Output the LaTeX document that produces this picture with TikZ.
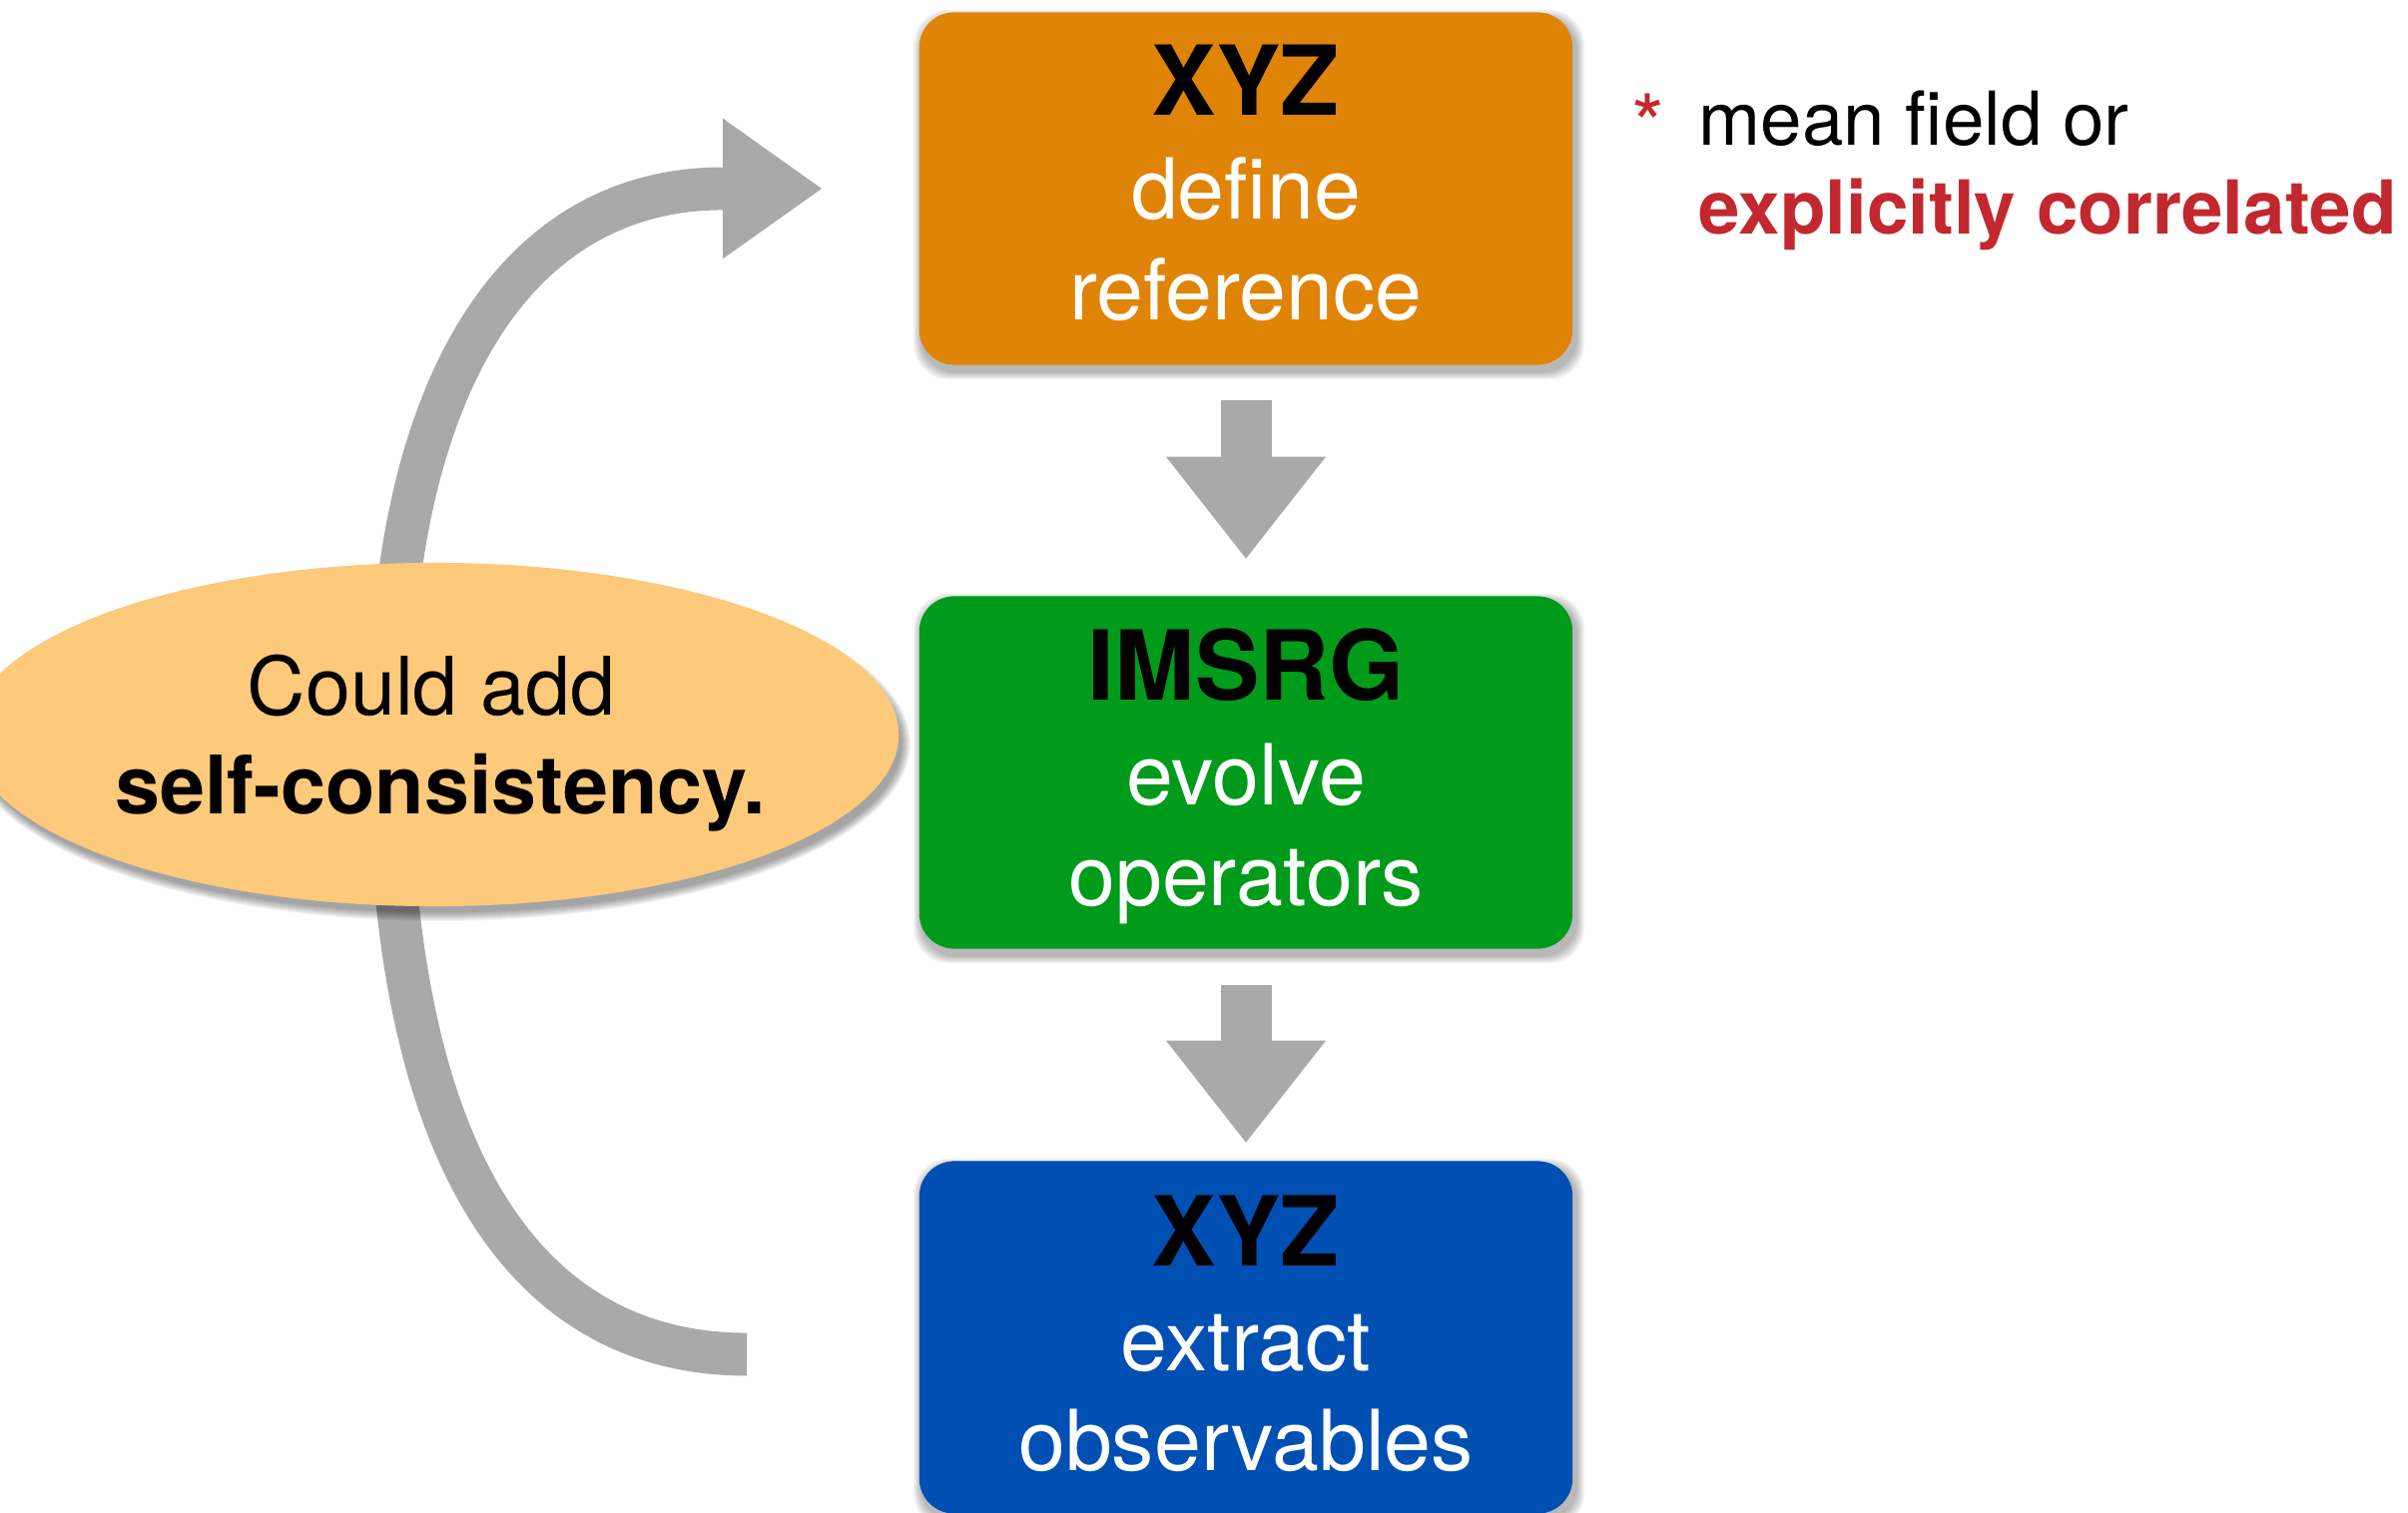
\documentclass[tikz,border=0pt]{standalone}
\usepackage{fontspec}
\setmainfont{TeX Gyre Heros}
\usetikzlibrary{arrows.meta,shapes.geometric}
\definecolor{cOrange}{RGB}{224,132,7}
\definecolor{cGreen}{RGB}{0,155,27}
\definecolor{cBlue}{RGB}{0,80,180}
\definecolor{cEll}{RGB}{253,201,123}
\definecolor{cGray}{RGB}{169,169,169}
\definecolor{cRed}{RGB}{194,40,46}
\newcommand{\boxshadow}[1]{%
  \foreach \k in {1,...,8}{%
    \fill[black, opacity=0.04, rounded corners=0.35cm]
      ([xshift={(3-\k)*0.1mm}, yshift={(-6+\k)*0.1mm}]#1.north west) rectangle
      ([xshift={(3+\k)*0.1mm}, yshift={(-6-\k)*0.1mm}]#1.south east);
  }}
\begin{document}
\begin{tikzpicture}[x=0.01cm,y=-0.01cm,
  stepbox/.style={rectangle, rounded corners=0.35cm, minimum width=6.54cm, minimum height=3.53cm, inner sep=0pt},
  title/.style={anchor=base, inner sep=0pt, font=\fontsize{27.5}{30}\selectfont\bfseries, text=black},
  body/.style={anchor=base, inner sep=0pt, font=\fontsize{24}{28}\selectfont, text=white},
  blockarrow/.style={draw=cGray, line width=14.5pt, line cap=butt, -{Triangle[length=29pt,width=45.5pt,line width=0pt]}},
  curvearrow/.style={draw=cGray, line width=12.2pt, line cap=butt, -{Triangle[length=28.2pt,width=40.1pt,line width=0pt]}},
  elltext/.style={anchor=base, inner sep=0pt, font=\fontsize{23}{26}\selectfont, text=black},
  notetext/.style={anchor=base west, inner sep=0pt, font=\fontsize{21.2}{24}\selectfont}
]
\useasboundingbox (0,0) rectangle (2412,1516);

% feedback arrow (behind ellipse)
\coordinate (cb) at (748,1357);
\coordinate (cm) at (390,740);
\coordinate (ce) at (724,189);
\coordinate (ca) at (823,189);
\draw[curvearrow] (cb) .. controls (520,1357) and (390,1150) .. (cm)
   .. controls (390,380) and (520,189) .. (ce) -- (ca);

% ellipse with shadow
\coordinate (ellc) at (435,736);
\foreach \k in {1,...,10}{%
  \fill[black, opacity=0.045] ([xshift=0.5mm, yshift=-0.9mm]ellc) ellipse [x radius={462+\k}, y radius={168+\k}];
}
\node[ellipse, fill=cEll, minimum width=9.30cm, minimum height=3.44cm, inner sep=0pt] (sc) at (ellc) {};
\node[elltext] (sc1) at (432,717) {Could add};
\node[elltext, font=\fontsize{23}{26}\selectfont\bfseries] (sc2) at (441,815) {self-consistency.};

% boxes
\node[stepbox] (ref) at (1248,189) {};
\node[stepbox] (grn) at (1248,774) {};
\node[stepbox] (blu) at (1248,1340) {};
\boxshadow{ref}
\boxshadow{grn}
\boxshadow{blu}
\node[stepbox, fill=cOrange] (refb) at (ref) {};
\node[stepbox, fill=cGreen] (grnb) at (grn) {};
\node[stepbox, fill=cBlue] (blub) at (blu) {};

\node[title] (r1) at (1248,116) {XYZ};
\node[body] (r2) at (1248,220) {define};
\node[body] (r3) at (1248,321) {reference};

\node[title] (g1) at (1248,702) {IMSRG};
\node[body] (g2) at (1248,806) {evolve};
\node[body] (g3) at (1248,907) {operators};

\node[title] (b1) at (1248,1268) {XYZ};
\node[body] (b2) at (1248,1373) {extract};
\node[body] (b3) at (1248,1473) {observables};

% block arrows
\draw[blockarrow] ([yshift=-0.35cm]ref.south) -- ([yshift=0.37cm]grn.north);
\draw[blockarrow] ([yshift=-0.36cm]grn.south) -- ([yshift=0.18cm]blu.north);

% note
\node[anchor=base west, inner sep=0pt, text=cRed, font=\fontsize{24}{26}\selectfont] (ast) at (1634,156) {*};
\node[notetext] (mf) at (1701,146) {mean field or};
\node[notetext, text=cRed, font=\fontsize{21.2}{24}\selectfont\bfseries] (ec) at (1701,235) {explicitly correlated};
\end{tikzpicture}
\end{document}
